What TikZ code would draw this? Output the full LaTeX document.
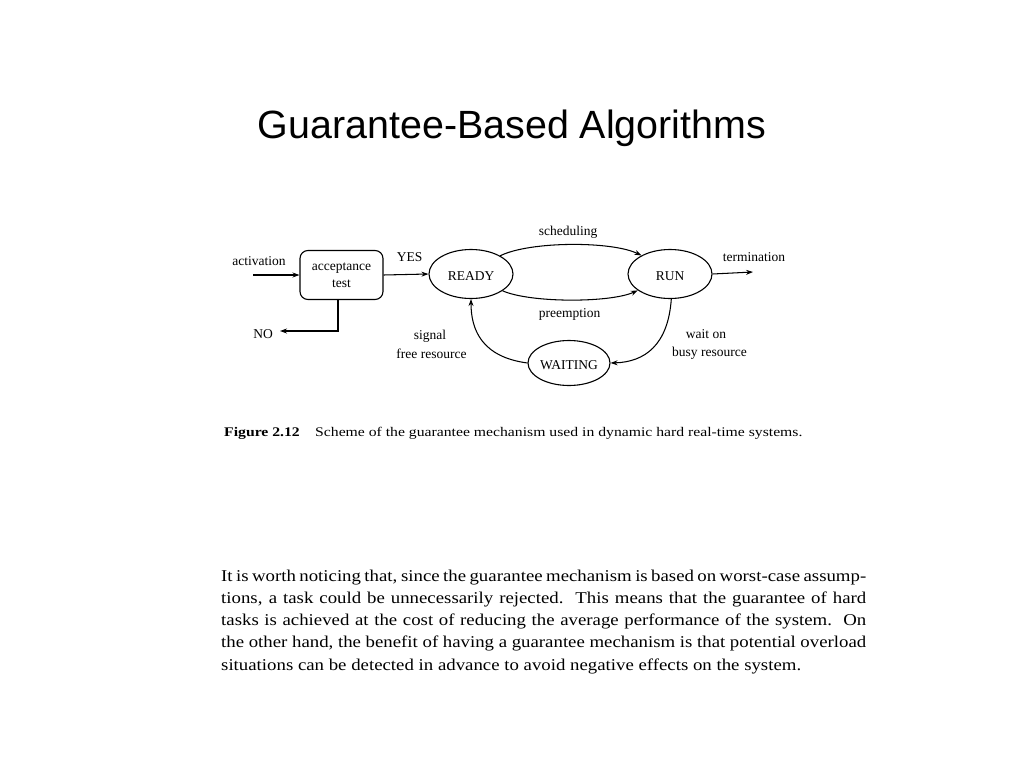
\documentclass[tikz,border=0pt]{standalone}
\usepackage{fontspec}
\setmainfont{Liberation Serif}
\newfontfamily\bookfont[FakeStretch=1.14]{Liberation Serif}
\newfontfamily\capfont[FakeStretch=1.19]{Liberation Serif}
\newfontfamily\titlefont{Liberation Sans}
\usetikzlibrary{arrows.meta,shapes.geometric}
\tikzset{
  lbl/.style={font=\fontsize{13.5}{17}\selectfont, inner sep=0pt, anchor=base},
  state/.style={ellipse, draw, line width=1.1pt, minimum width=84pt, minimum height=49pt, inner sep=0pt, text depth=0pt, text height=13pt, font=\fontsize{13.5}{17}\selectfont},
  accbox/.style={rectangle, rounded corners=8pt, draw, line width=1.1pt, minimum width=83pt, minimum height=49pt, inner sep=0pt, align=center, font=\fontsize{13.5}{17}\selectfont},
  link/.style={draw, line width=1.05pt, -{Stealth[length=7pt,width=5pt]}},
  para/.style={font=\bookfont\fontsize{16.5}{22}\selectfont, inner sep=0pt, anchor=base west},
  captxt/.style={font=\capfont\fontsize{13.2}{16}\selectfont, inner sep=0pt, anchor=base west}
}
\begin{document}
\begin{tikzpicture}[x=1pt,y=-1pt]
\useasboundingbox (0,0) rectangle (1024,768);
\fill[white] (0,0) rectangle (1024,768);
% title
\node[font=\titlefont\fontsize{39.4}{47}\selectfont, inner sep=0pt, anchor=base] (title) at (512,138) {Guarantee-Based Algorithms};
% diagram
\node[accbox] (acc) at (341.5,275) {acceptance\\test};
\node[state] (ready) at (471,274) {READY};
\node[state] (run) at (670,274) {RUN};
\node[state, minimum width=82pt, minimum height=45pt] (waiting) at (569,363) {WAITING};
\coordinate (actstart) at (253,275);
\coordinate (noend) at (280,331);
\coordinate (termend) at (753,272);
\draw[link] (actstart) -- (acc.west);
\draw[link] (acc.east) -- (ready.west);
\draw[link] ([xshift=-3.5pt]acc.south) |- (noend);
\draw[link] (run.east) -- (termend);
\draw[link] (ready.32) .. controls (530,241) and (612,241) .. (run.147);
\draw[link] (ready.-28) .. controls (530,303) and (610,303) .. (run.207);
\draw[link] (run.-87) .. controls (668,345) and (645,362) .. (waiting.east);
\draw[link] (waiting.west) .. controls (482,357) and (471,330) .. (ready.south);
% labels
\node[lbl] (lact) at (259,265) {activation};
\node[lbl] (lyes) at (409.5,261) {YES};
\node[lbl] (lno) at (263,338) {NO};
\node[lbl] (lsig1) at (430,339) {signal};
\node[lbl] (lsig2) at (431.5,358) {free resource};
\node[lbl] (lsch) at (568,235) {scheduling};
\node[lbl] (lpre) at (569.5,317) {preemption};
\node[lbl] (lterm) at (754,261) {termination};
\node[lbl] (lwait1) at (706,338) {wait on};
\node[lbl] (lwait2) at (709.5,356) {busy resource};
% caption
\node[captxt] (capa) at (224,436) {\bfseries Figure 2.12};
\node[captxt] (capb) at (315,436) {Scheme of the guarantee mechanism used in dynamic hard real-time systems.};
% paragraph
\node[para] (p1) at (221,581) {\makebox[645pt][s]{It is worth noticing that, since the guarantee mechanism is based on worst-case assump-}};
\node[para] (p2) at (221,603.3) {\makebox[645pt][s]{tions, a task could be unnecessarily rejected.\ \ This means that the guarantee of hard}};
\node[para] (p3) at (221,625.6) {\makebox[645pt][s]{tasks is achieved at the cost of reducing the average performance of the system.\ \ On}};
\node[para] (p4) at (221,647.9) {\makebox[645pt][s]{the other hand, the benefit of having a guarantee mechanism is that potential overload}};
\node[para] (p5) at (221,670.2) {situations can be detected in advance to avoid negative effects on the system.};
\end{tikzpicture}
\end{document}
